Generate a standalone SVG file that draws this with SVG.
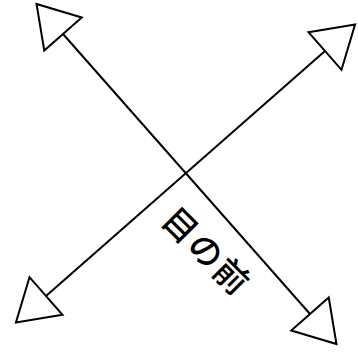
<svg xmlns="http://www.w3.org/2000/svg" width="358" height="354" viewBox="0 0 358 354">
<defs>
<marker id="arr" viewBox="0 0 44 54" refX="2" refY="27" markerWidth="44" markerHeight="54" markerUnits="userSpaceOnUse" orient="auto-start-reverse">
<path d="M2,2 L42,27 L2,52 Z" fill="#fff" stroke="#000" stroke-width="2"/>
</marker>
</defs>
<style>
.c{stroke:#000;stroke-width:2;fill:none;marker-start:url(#arr);marker-end:url(#arr)}
.t{font-family:"Noto Sans CJK JP",sans-serif;font-size:34px;font-weight:500;letter-spacing:2px;fill:#000}
</style>
<rect width="358" height="354" fill="#fff"/>
<g id="connectors">
<line class="c" x1="63" y1="34" x2="310" y2="314"/>
<line class="c" x1="325" y1="51" x2="46" y2="296"/>
</g>
<g id="label">
<text class="t" x="0" y="0" text-anchor="middle" dominant-baseline="central" transform="translate(208,250) rotate(45)">目の前</text>
</g>
</svg>
